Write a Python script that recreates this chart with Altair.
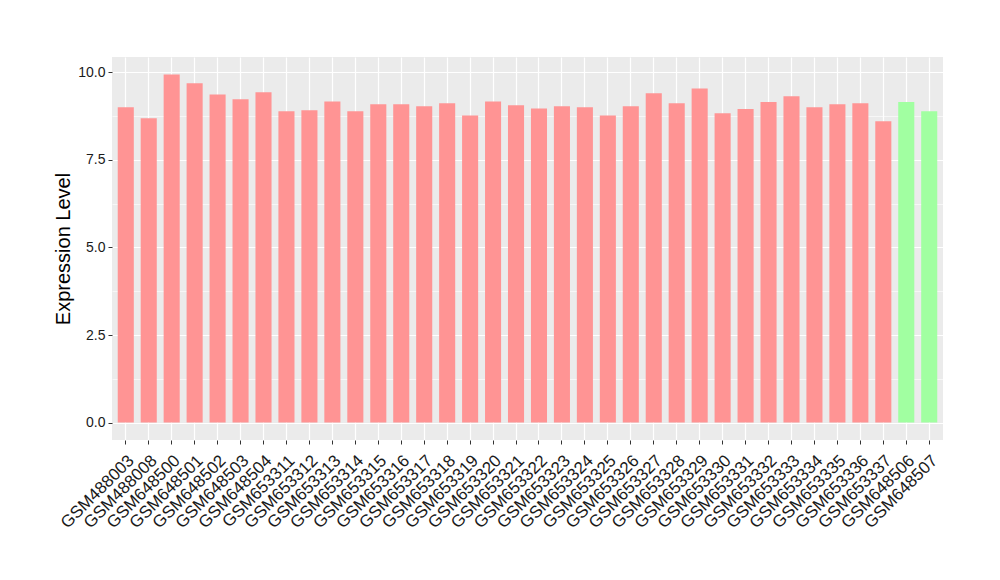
import altair as alt
import pandas as pd

samples = [
    "GSM488003", "GSM488008", "GSM648500", "GSM648501", "GSM648502", "GSM648503",
    "GSM648504", "GSM653311", "GSM653312", "GSM653313", "GSM653314", "GSM653315",
    "GSM653316", "GSM653317", "GSM653318", "GSM653319", "GSM653320", "GSM653321",
    "GSM653322", "GSM653323", "GSM653324", "GSM653325", "GSM653326", "GSM653327",
    "GSM653328", "GSM653329", "GSM653330", "GSM653331", "GSM653332", "GSM653333",
    "GSM653334", "GSM653335", "GSM653336", "GSM653337", "GSM648506", "GSM648507",
]
values = [
    9.00, 8.69, 9.94, 9.69, 9.37, 9.23, 9.43, 8.89, 8.92, 9.17, 8.89, 9.09,
    9.09, 9.03, 9.12, 8.77, 9.17, 9.06, 8.97, 9.03, 9.00, 8.77, 9.03, 9.40,
    9.12, 9.54, 8.83, 8.95, 9.15, 9.32, 9.00, 9.09, 9.12, 8.60, 9.15, 8.89,
]
groups = ["a"] * 34 + ["b"] * 2
group_colors = ["#FF9494", "#A1FFA1"]
y_ticks = [0, 1.25, 2.5, 3.75, 5, 6.25, 7.5, 8.75, 10]

df = pd.DataFrame({"sample": samples, "value": values, "group": groups})

FONT = "Liberation Sans"

chart = alt.Chart(df).mark_bar().encode(
    x=alt.X(
        "sample:N",
        sort=samples,
        title=None,
        scale=alt.Scale(paddingInner=0.3, paddingOuter=0.25),
        axis=alt.Axis(
            labelAngle=-45,
            labelAlign="right",
            labelBaseline="top",
            labelFontSize=17,
            labelColor="#1A1A1A",
            labelFont=FONT,
            labelPadding=8,
            tickColor="#333333",
            tickSize=4,
            domain=False,
            grid=True,
            gridColor="#FFFFFF",
            gridWidth=1.2,
        ),
    ),
    y=alt.Y(
        "value:Q",
        title="Expression Level",
        scale=alt.Scale(domain=[-0.497, 10.437], nice=False, zero=False),
        axis=alt.Axis(
            values=y_ticks,
            labelExpr="datum.value % 2.5 == 0 ? format(datum.value, '.1f') : ''",
            labelFontSize=14,
            labelColor="#1A1A1A",
            labelFont=FONT,
            labelPadding=3,
            tickColor="#333333",
            tickSize=4,
            tickOpacity={"condition": {"test": "datum.value % 2.5 != 0", "value": 0}, "value": 1},
            domain=False,
            grid=True,
            gridColor="#FFFFFF",
            gridWidth={"condition": {"test": "datum.value % 2.5 != 0", "value": 0.6}, "value": 1.2},
            titleFont=FONT,
            titleFontSize=20,
            titleFontWeight="normal",
            titleColor="#000000",
            titlePadding=4,
        ),
    ),
    color=alt.Color(
        "group:N",
        scale=alt.Scale(domain=["a", "b"], range=group_colors),
        legend=None,
    ),
).properties(
    width=831,
    height=383,
    autosize=alt.AutoSizeParams(type="none"),
    padding={"left": 104, "top": 49, "right": 49, "bottom": 132},
).configure_view(
    fill="#EBEBEB",
    stroke=None,
)

chart.save("out.html", embed_options={"renderer": "svg", "actions": False})
